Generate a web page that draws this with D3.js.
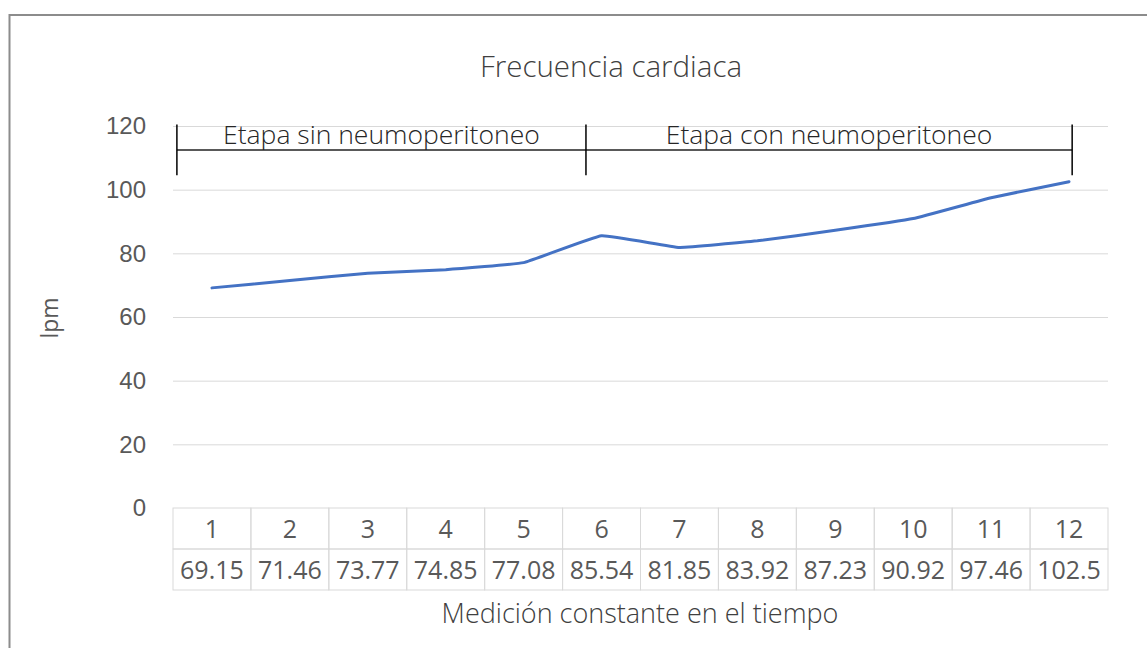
<!DOCTYPE html>
<html>
<head>
<meta charset="utf-8">
<script src="https://cdn.jsdelivr.net/npm/d3@7"></script>
<style>
  html, body { margin: 0; padding: 0; background: #fff; }
  svg { display: block; font-family: "Open Sans", "Noto Sans", sans-serif; }
</style>
</head>
<body>
<svg id="chart" width="1147" height="648"></svg>
<script>
// ---- data ----
const categories = ["1","2","3","4","5","6","7","8","9","10","11","12"];
const values = [69.15, 71.46, 73.77, 74.85, 77.08, 85.54, 81.85, 83.92, 87.23, 90.92, 97.46, 102.5];
const valueLabels = ["69.15","71.46","73.77","74.85","77.08","85.54","81.85","83.92","87.23","90.92","97.46","102.5"];
const yTicks = [0, 20, 40, 60, 80, 100, 120];
const phaseLabels = ["Etapa sin neumoperitoneo", "Etapa con neumoperitoneo"];
const phaseBounds = [0.55, 5.8, 12.04];   // in category units
const bracketRange = [104.5, 120.5];      // vertical extent of bracket ticks (lpm)
const bracketLevel = 112.5;               // horizontal line level (lpm)
const phaseLabelLevel = 114.3;
const titleText = "Frecuencia cardiaca";
const yTitle = "lpm";
const xTitle = "Medición constante en el tiempo";

// ---- layout ----
const svg = d3.select("#chart");
const plot = { left: 173, right: 1108, top: 126, bottom: 508 };
const textColor = "#595959";

// outer frame
svg.append("rect")
  .attr("x", 9.5).attr("y", 15)
  .attr("width", 1160).attr("height", 660)
  .attr("fill", "none").attr("stroke", "#8c8c8c").attr("stroke-width", 2);

const x = d3.scaleBand().domain(categories).range([plot.left, plot.right]).padding(0);
const xLin = d3.scaleLinear().domain([0.5, categories.length + 0.5]).range([plot.left, plot.right]);
const y = d3.scaleLinear().domain([0, 120]).range([plot.bottom, plot.top]);

// gridlines
const yAxis = d3.axisLeft(y).tickValues(yTicks).tickSize(-(plot.right - plot.left)).tickPadding(27);
const gy = svg.append("g").attr("transform", `translate(${plot.left},0)`).call(yAxis);
gy.select(".domain").remove();
gy.selectAll(".tick line").attr("stroke", "#d9d9d9").attr("stroke-width", 1);
gy.selectAll(".tick text")
  .attr("fill", textColor).style("font-size", "24px").attr("dy", "0.32em");
gy.selectAll(".tick").filter(d => d === 0).select("line").remove();

// data table
const rowH = 41;
const tableTop = plot.bottom;
const tbl = svg.append("g");
const cells = tbl.selectAll("g.col").data(categories).join("g").attr("class", "col");
cells.append("rect")
  .attr("x", d => x(d)).attr("y", tableTop)
  .attr("width", x.bandwidth()).attr("height", rowH)
  .attr("fill", "none").attr("stroke", "#d9d9d9");
cells.append("rect")
  .attr("x", d => x(d)).attr("y", tableTop + rowH)
  .attr("width", x.bandwidth()).attr("height", rowH)
  .attr("fill", "none").attr("stroke", "#d9d9d9");
cells.append("text")
  .attr("x", d => x(d) + x.bandwidth() / 2).attr("y", tableTop + rowH / 2)
  .attr("dy", "0.36em").attr("text-anchor", "middle")
  .attr("fill", textColor).style("font-size", "25px")
  .text(d => d);
cells.append("text")
  .attr("x", d => x(d) + x.bandwidth() / 2).attr("y", tableTop + rowH * 1.5)
  .attr("dy", "0.36em").attr("text-anchor", "middle")
  .attr("fill", textColor).style("font-size", "25px")
  .text((d, i) => valueLabels[i]);

// line
const line = d3.line()
  .x((d, i) => x(categories[i]) + x.bandwidth() / 2)
  .y(d => y(d))
  .curve(d3.curveCardinal.tension(0.7));
svg.append("path").datum(values)
  .attr("d", line)
  .attr("fill", "none").attr("stroke", "#4472C4")
  .attr("stroke-width", 3).attr("stroke-linecap", "round").attr("stroke-linejoin", "round");

// phase brackets
const br = svg.append("g");
br.append("line")
  .attr("x1", xLin(phaseBounds[0])).attr("x2", xLin(phaseBounds[2]))
  .attr("y1", y(bracketLevel)).attr("y2", y(bracketLevel))
  .attr("stroke", "#595959").attr("stroke-width", 2);
br.selectAll("line.v").data(phaseBounds).join("line").attr("class", "v")
  .attr("x1", d => xLin(d)).attr("x2", d => xLin(d))
  .attr("y1", y(bracketRange[0])).attr("y2", y(bracketRange[1]))
  .attr("stroke", "#000").attr("stroke-width", 1.5);
br.selectAll("text").data(phaseLabels).join("text")
  .attr("x", (d, i) => (xLin(phaseBounds[i]) + xLin(phaseBounds[i + 1])) / 2)
  .attr("y", y(phaseLabelLevel))
  .attr("text-anchor", "middle")
  .attr("fill", "#262626").style("font-size", "26.5px").style("font-weight", 300)
  .text(d => d);

// titles
svg.append("text")
  .attr("x", 611).attr("y", 77)
  .attr("text-anchor", "middle").attr("fill", "#404040")
  .style("font-size", "29.5px").style("font-weight", 300)
  .text(titleText);
svg.append("text")
  .attr("transform", `translate(58,318) rotate(-90)`)
  .attr("text-anchor", "middle").attr("fill", textColor)
  .style("font-size", "23px")
  .text(yTitle);
svg.append("text")
  .attr("x", 640).attr("y", 623)
  .attr("text-anchor", "middle").attr("fill", "#404040")
  .style("font-size", "27px").style("font-weight", 300)
  .text(xTitle);
</script>
</body>
</html>
